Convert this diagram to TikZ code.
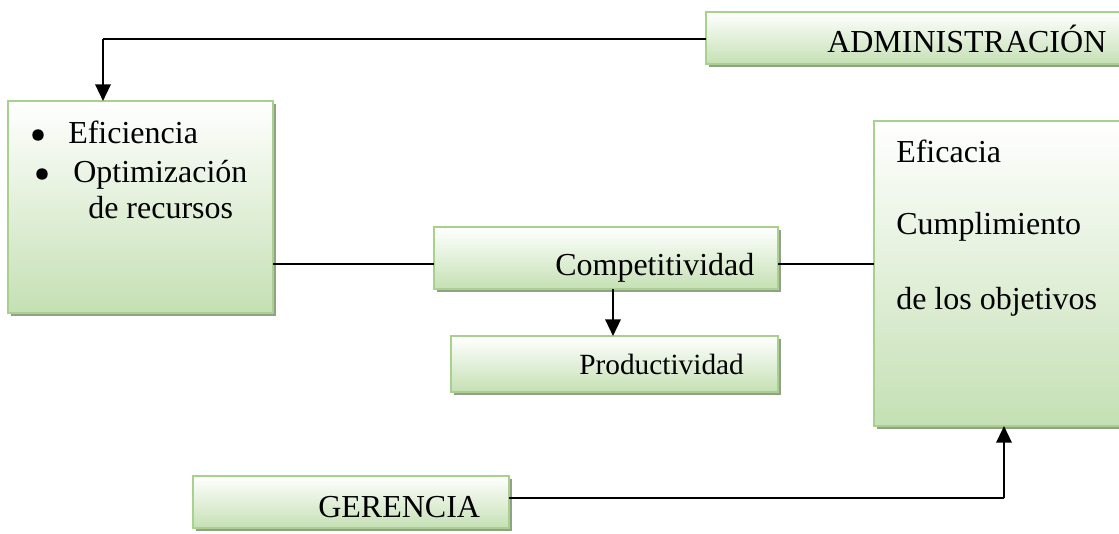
\documentclass[tikz,border=0pt]{standalone}
\usepackage{fontspec}
\setmainfont{Liberation Serif}
\usetikzlibrary{shadows,arrows.meta}
\definecolor{gbottom}{RGB}{197,224,180}
\definecolor{gborder}{RGB}{169,209,142}
\definecolor{gshadow}{RGB}{146,160,136}
\tikzset{
  box/.style={draw=gborder, line width=1.4pt, inner sep=0pt, outer sep=0pt,
    top color=white, bottom color=gbottom, anchor=north west,
    drop shadow={shadow xshift=2.6pt, shadow yshift=-2.6pt, fill=gshadow, opacity=1}},
  txt/.style={inner sep=0pt, anchor=base west, font=\fontsize{24}{29}\selectfont},
  bul/.style={circle, fill=black, inner sep=0pt, minimum size=8.6pt},
  conn/.style={line width=0.9pt},
  arr/.style={line width=1.7pt, -{Triangle[width=11.5pt,length=12.5pt]}}
}
\begin{document}
\begin{tikzpicture}[x=0.75pt,y=-0.75pt]
\useasboundingbox (0,0) rectangle (1119,533);
% boxes
\node[box, minimum width=314.25pt, minimum height=39pt] (adm) at (706,12) {};
\node[box, minimum width=198.75pt, minimum height=159pt] (efi) at (8,101) {};
\node[box, minimum width=258pt, minimum height=46.5pt] (comp) at (434,227) {};
\node[box, minimum width=245.25pt, minimum height=42pt] (prod) at (451,336) {};
\node[box, minimum width=188.25pt, minimum height=228.75pt] (efc) at (874,121) {};
\node[box, minimum width=237pt, minimum height=39pt] (ger) at (193,476) {};
% texts
\node[txt] (tadm) at (827,52) {ADMINISTRACIÓN};
\node[bul] (b1) at (38,135) {};
\node[txt] (t1) at (68,143) {Eficiencia};
\node[bul] (b2) at (42,174) {};
\node[txt] (t2) at (73,182) {Optimización};
\node[txt] (t3) at (88,218) {de recursos};
\node[txt] (tcomp) at (555,275) {Competitividad};
\node[txt, font=\fontsize{22}{26}\selectfont] (tprod) at (579,374) {Productividad};
\node[txt] (te1) at (896,162) {Eficacia};
\node[txt] (te2) at (896,234) {Cumplimiento};
\node[txt] (te3) at (896,309) {de los objetivos};
\node[txt] (tger) at (318,517) {GERENCIA};
% helper coordinates
\coordinate (c1) at (103,39);
\coordinate (h1) at (0,264);
\coordinate (a1) at (613,0);
\coordinate (g1) at (0,498);
\coordinate (c2) at (1004,498);
% connectors
\draw[conn] (adm.west |- c1) -- (c1);
\draw[arr] (c1) -- (c1 |- efi.north);
\draw[conn] (efi.east |- h1) -- (comp.west |- h1);
\draw[conn] (comp.east |- h1) -- (efc.west |- h1);
\draw[arr] (comp.south -| a1) -- (prod.north -| a1);
\draw[conn] (ger.east |- g1) -- (c2);
\draw[arr] (c2) -- (c2 |- efc.south);
\end{tikzpicture}
\end{document}
